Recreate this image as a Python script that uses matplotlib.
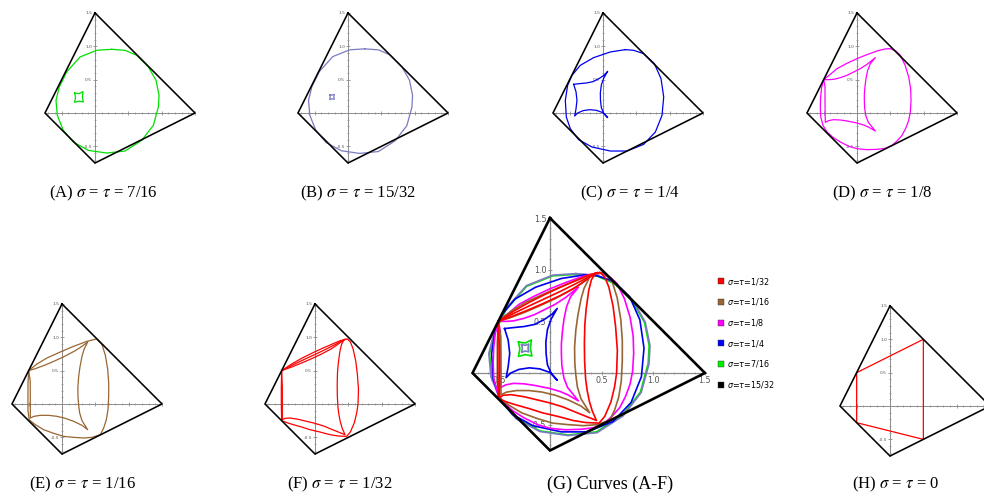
import matplotlib
matplotlib.use("Agg")
import matplotlib.pyplot as plt
from matplotlib.patches import Patch

W, H = 984, 499
fig = plt.figure(figsize=(W / 100, H / 100), dpi=100)

# ---------------- data ----------------
quad_x = [0.0, 1.5, 0.0, -0.75, 0.0]
quad_y = [1.5, 0.0, -0.75, 0.0, 1.5]

# sigma = tau = 0 (H)
h_curve = [(-0.5, 0.5), (0.5, 1.0), (0.5, -0.5), (-0.5, -0.25), (-0.5, 0.5)]

# sigma = tau = 7/16 (A)
a_outer = [(0.25, 0.955), (0.45, 0.94), (0.625, 0.865), (0.8, 0.69), (0.915, 0.49),
           (0.96, 0.265), (0.95, 0.09), (0.875, -0.185), (0.7, -0.41), (0.45, -0.57),
           (0.175, -0.6), (-0.1, -0.56), (-0.325, -0.435), (-0.475, -0.26),
           (-0.565, -0.035), (-0.585, 0.19), (-0.535, 0.39), (-0.425, 0.615),
           (-0.225, 0.84), (0.025, 0.94), (0.25, 0.955)]
a_inner = [(-0.305, 0.30), (-0.24, 0.29), (-0.18, 0.32), (-0.19, 0.24), (-0.175, 0.165),
           (-0.24, 0.178), (-0.305, 0.16), (-0.292, 0.235), (-0.305, 0.30)]

# sigma = tau = 15/32 (B)
b_outer = [(0.25, 0.962), (0.455, 0.947), (0.63, 0.872), (0.806, 0.696), (0.922, 0.492),
           (0.968, 0.265), (0.958, 0.085), (0.882, -0.19), (0.706, -0.417), (0.455, -0.578),
           (0.175, -0.606), (-0.1, -0.566), (-0.331, -0.441), (-0.481, -0.263),
           (-0.572, -0.035), (-0.592, 0.19), (-0.541, 0.395), (-0.43, 0.621),
           (-0.228, 0.846), (0.025, 0.947), (0.25, 0.962)]
b_inner = [(-0.275, 0.275), (-0.24, 0.268), (-0.205, 0.28), (-0.213, 0.24), (-0.205, 0.205),
           (-0.24, 0.213), (-0.275, 0.2), (-0.267, 0.238), (-0.275, 0.275)]

# sigma = tau = 1/4 (C)
c_outer = [(0.335, 0.95), (0.46, 0.94), (0.61, 0.89), (0.77, 0.74), (0.87, 0.515),
           (0.91, 0.24), (0.885, -0.035), (0.785, -0.285), (0.61, -0.47), (0.36, -0.57),
           (0.11, -0.57), (-0.165, -0.51), (-0.365, -0.4), (-0.49, -0.235), (-0.55, -0.06),
           (-0.565, 0.19), (-0.53, 0.415), (-0.465, 0.565), (-0.34, 0.715), (-0.14, 0.83),
           (0.11, 0.915), (0.335, 0.95)]
c_inner = [(-0.44, 0.43), (-0.35, 0.44), (-0.25, 0.45), (-0.15, 0.47), (-0.06, 0.515),
           (0.02, 0.57), (0.07, 0.625), (0.01, 0.52), (-0.025, 0.42), (-0.04, 0.3),
           (-0.038, 0.19), (-0.025, 0.08), (0.01, 0.0), (0.07, -0.07), (0.0, 0.005),
           (-0.1, 0.04), (-0.2, 0.05), (-0.3, 0.035), (-0.38, 0.0), (-0.425, -0.045),
           (-0.405, 0.06), (-0.39, 0.19), (-0.405, 0.32), (-0.44, 0.43)]

# sigma = tau = 1/8 (D)
d_outer = [(-0.5, 0.5), (-0.4, 0.58), (-0.3, 0.665), (-0.15, 0.745), (0.0, 0.815),
           (0.15, 0.875), (0.3, 0.93), (0.42, 0.96), (0.5, 0.965), (0.58, 0.93),
           (0.65, 0.865), (0.72, 0.72), (0.775, 0.54), (0.805, 0.36), (0.81, 0.19),
           (0.8, 0.02), (0.775, -0.11), (0.73, -0.23), (0.675, -0.335), (0.6, -0.42),
           (0.525, -0.485), (0.42, -0.53), (0.3, -0.545), (0.15, -0.55), (0.0, -0.535),
           (-0.12, -0.5), (-0.25, -0.435), (-0.36, -0.365), (-0.45, -0.285),
           (-0.51, -0.185), (-0.545, -0.05), (-0.55, 0.1), (-0.545, 0.25), (-0.53, 0.38),
           (-0.5, 0.5)]
d_inner = [(-0.5, 0.5), (-0.42, 0.5), (-0.35, 0.505), (-0.25, 0.53), (-0.15, 0.565),
           (-0.05, 0.615), (0.05, 0.665), (0.15, 0.73), (0.275, 0.83), (0.2, 0.74),
           (0.16, 0.64), (0.135, 0.52), (0.12, 0.4), (0.11, 0.28), (0.11, 0.19),
           (0.115, 0.07), (0.135, -0.05), (0.17, -0.14), (0.275, -0.27), (0.17, -0.21),
           (0.1, -0.18), (0.0, -0.15), (-0.15, -0.12), (-0.25, -0.105), (-0.35, -0.1),
           (-0.43, -0.115), (-0.475, -0.14), (-0.478, 0.0), (-0.48, 0.2), (-0.48, 0.4),
           (-0.5, 0.5)]

# sigma = tau = 1/16 (E)
e_outer = [(-0.5, 0.5), (-0.375, 0.6), (-0.225, 0.69), (-0.025, 0.78), (0.175, 0.865),
           (0.375, 0.94), (0.52, 0.975), (0.6, 0.89), (0.65, 0.73), (0.685, 0.52),
           (0.7, 0.315), (0.7, 0.12), (0.69, -0.08), (0.665, -0.235), (0.625, -0.36),
           (0.575, -0.46), (0.45, -0.5), (0.325, -0.51), (0.175, -0.5), (0.025, -0.485),
           (-0.125, -0.44), (-0.275, -0.385), (-0.4, -0.31), (-0.49, -0.24),
           (-0.51, -0.1), (-0.51, 0.1), (-0.51, 0.3), (-0.5, 0.5)]
e_inner = [(-0.5, 0.5), (-0.4, 0.53), (-0.25, 0.585), (-0.1, 0.65), (0.05, 0.72),
           (0.2, 0.8), (0.3, 0.865), (0.385, 0.93), (0.33, 0.82), (0.3, 0.715),
           (0.27, 0.56), (0.25, 0.415), (0.238, 0.25), (0.24, 0.1), (0.25, -0.02),
           (0.265, -0.135), (0.3, -0.25), (0.385, -0.385), (0.3, -0.32), (0.175, -0.26),
           (0.05, -0.215), (-0.075, -0.185), (-0.2, -0.17), (-0.325, -0.17),
           (-0.42, -0.185), (-0.475, -0.21), (-0.475, -0.05), (-0.475, 0.15),
           (-0.477, 0.35), (-0.5, 0.5)]

# sigma = tau = 1/32 (F)
f_outer = [(-0.5, 0.5), (-0.35, 0.6), (-0.2, 0.685), (-0.05, 0.76), (0.1, 0.83),
           (0.25, 0.895), (0.38, 0.95), (0.485, 0.975), (0.53, 0.93), (0.57, 0.83),
           (0.61, 0.65), (0.635, 0.45), (0.652, 0.22), (0.645, 0.0), (0.625, -0.135),
           (0.59, -0.28), (0.53, -0.42), (0.475, -0.485), (0.35, -0.48), (0.225, -0.46),
           (0.075, -0.42), (-0.075, -0.385), (-0.2, -0.345), (-0.325, -0.31),
           (-0.42, -0.28), (-0.5, -0.25), (-0.505, 0.0), (-0.505, 0.25), (-0.5, 0.5)]
f_inner = [(-0.5, 0.5), (-0.35, 0.555), (-0.2, 0.615), (-0.05, 0.68), (0.1, 0.75),
           (0.25, 0.83), (0.35, 0.9), (0.44, 0.97), (0.4, 0.9), (0.375, 0.8),
           (0.35, 0.62), (0.337, 0.465), (0.333, 0.29), (0.335, 0.115), (0.345, -0.06),
           (0.36, -0.17), (0.38, -0.27), (0.41, -0.37), (0.45, -0.46), (0.35, -0.42),
           (0.25, -0.38), (0.13, -0.33), (0.0, -0.29), (-0.125, -0.26), (-0.25, -0.23),
           (-0.375, -0.21), (-0.45, -0.215), (-0.49, -0.235), (-0.49, 0.0),
           (-0.49, 0.25), (-0.5, 0.5)]
f_mid = [(-0.5, 0.5), (-0.35, 0.578), (-0.2, 0.65), (-0.05, 0.72), (0.1, 0.79),
         (0.25, 0.865), (0.46, 0.972)]

colors = {
    "A": "#00e000", "B": "#7b7bc2", "C": "#0000ee",
    "D": "#ff00ff", "E": "#996633", "F": "#ff0000", "H": "#ff0000",
}
curves = {
    "A": [a_outer, a_inner], "B": [b_outer, b_inner], "C": [c_outer, c_inner],
    "D": [d_outer, d_inner], "E": [e_outer, e_inner], "F": [f_outer, f_inner, f_mid],
    "H": [h_curve],
}
captions = {
    "A": r"(A) $\sigma$ = $\tau$ = 7/16", "B": r"(B) $\sigma$ = $\tau$ = 15/32",
    "C": r"(C) $\sigma$ = $\tau$ = 1/4", "D": r"(D) $\sigma$ = $\tau$ = 1/8",
    "E": r"(E) $\sigma$ = $\tau$ = 1/16", "F": r"(F) $\sigma$ = $\tau$ = 1/32",
    "G": "(G) Curves (A-F)", "H": r"(H) $\sigma$ = $\tau$ = 0",
}
legend_labels = [r"$\sigma$=$\tau$=1/32", r"$\sigma$=$\tau$=1/16", r"$\sigma$=$\tau$=1/8",
                 r"$\sigma$=$\tau$=1/4", r"$\sigma$=$\tau$=7/16", r"$\sigma$=$\tau$=15/32"]
legend_colors = ["#ff0000", "#996633", "#ff00ff", "#0000ff", "#00ee00", "#000000"]

# ---------------- layout ----------------
panels = {
    "A": (95, 113, 66.7), "B": (348, 113, 66.7), "C": (603, 113, 66.7), "D": (857, 113, 66.7),
    "E": (62, 404, 66.7), "F": (315, 404, 66.7), "G": (550, 373, 103.3), "H": (890, 406, 66.7),
}
cap_pos = {"A": (103, 193), "B": (358, 193), "C": (630, 193), "D": (882, 193),
           "E": (82, 484), "F": (340, 484), "G": (610, 484), "H": (896, 484)}

LO, HI = -0.85, 1.62


def make_axes(ox, oy, s):
    left = (ox + LO * s) / W
    bottom = 1 - (oy - LO * s) / H
    ax = fig.add_axes([left, bottom, (HI - LO) * s / W, (HI - LO) * s / H])
    ax.set_xlim(LO, HI)
    ax.set_ylim(LO, HI)
    ax.patch.set_visible(False)
    return ax


def style_axes(ax, big):
    for side in ("top", "right"):
        ax.spines[side].set_visible(False)
    for side in ("left", "bottom"):
        sp = ax.spines[side]
        sp.set_position(("data", 0))
        sp.set_color("#8c8c8c")
        sp.set_linewidth(0.9 if big else 0.7)
        sp.set_bounds(-0.75, 1.5)
    fs = 5.8 if big else 3.2
    ax.set_xticks([-0.5, 0.5, 1.0, 1.5])
    if big:
        ax.set_xticklabels(["-0.5", "0.5", "1.0", "1.5"])
    else:
        ax.set_xticklabels([])
    ax.set_yticks([-0.5, 0.5, 1.0, 1.5])
    ax.set_yticklabels(["-0.5", "0.5", "1.0", "1.5"])
    minor = [v / 10 for v in range(-7, 16) if v % 5 != 0]
    ax.set_xticks(minor, minor=True)
    ax.set_yticks(minor, minor=True)
    ax.tick_params(which="major", direction="inout", length=3 if big else 2.2,
                   width=0.6, color="#8c8c8c", labelsize=fs, labelcolor="#555555", pad=1)
    ax.tick_params(which="minor", direction="inout", length=1.6 if big else 1.2,
                   width=0.5, color="#8c8c8c")


for key, (ox, oy, s) in panels.items():
    big = key == "G"
    ax = make_axes(ox, oy, s)
    style_axes(ax, big)
    ax.plot(quad_x, quad_y, color="black", lw=1.9 if big else 1.15,
            solid_joinstyle="miter", zorder=5)
    keys = ["A", "B", "C", "D", "E", "F"] if big else [key]
    for k in keys:
        for seg in curves[k]:
            xs, ys = zip(*seg)
            ax.plot(xs, ys, color=colors[k], lw=1.2 if big else 0.9,
                    solid_joinstyle="round", zorder=4)
    cx, cy = cap_pos[key]
    fig.text(cx / W, 1 - cy / H, captions[key], ha="center", va="center",
             fontsize=13 if big else 12, family="Liberation Serif", math_fontfamily="stix")
    if big:
        handles = [Patch(facecolor=c, edgecolor="#333333", linewidth=0.3) for c in legend_colors]
        fig.legend(handles, legend_labels, loc="upper left",
                   bbox_to_anchor=(716 / W, 1 - 274 / H), frameon=False,
                   fontsize=5.8, handlelength=0.75, handleheight=0.75,
                   handletextpad=0.4, labelspacing=1.2, borderaxespad=0,
                   borderpad=0.2)

fig.savefig("out.png", dpi=100)
